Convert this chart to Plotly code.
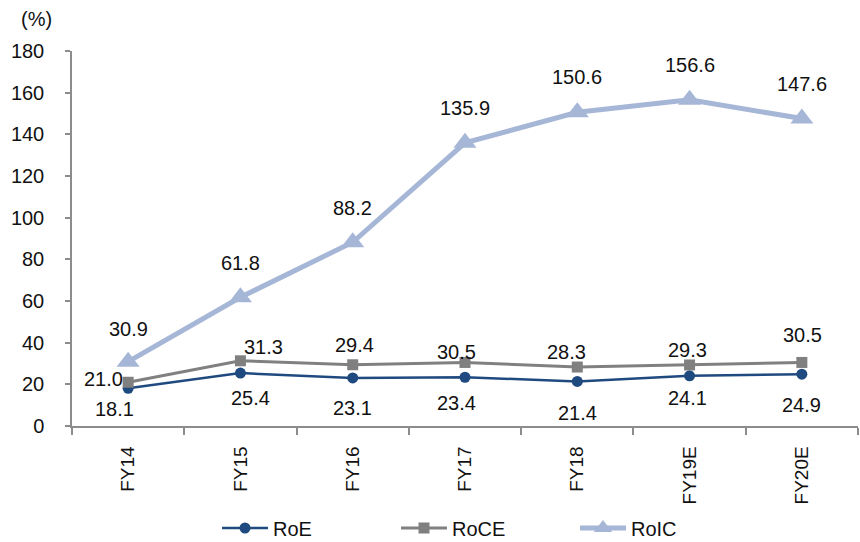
import plotly.graph_objects as go

categories = ["FY14", "FY15", "FY16", "FY17", "FY18", "FY19E", "FY20E"]
roe = [18.1, 25.4, 23.1, 23.4, 21.4, 24.1, 24.9]
roce = [21.0, 31.3, 29.4, 30.5, 28.3, 29.3, 30.5]
roic = [30.9, 61.8, 88.2, 135.9, 150.6, 156.6, 147.6]
y_ticks = [0, 20, 40, 60, 80, 100, 120, 140, 160, 180]

# label offsets (pixels) to mimic the original placement
roe_dx = [-14, 10, 0, -9, 0, -2, 0]
roe_dy = [-21, -25, -30, -26, -32, -22, -31]
roce_dx = [-25, 23, 2, -9, -11, -2, 1]
roce_dy = [3, 14, 20, 10, 15, 15, 27]
roic_dx = [0, 0, 0, 0, 0, 0, 0]
roic_dy = [33, 34, 34, 35, 35, 35, 35]

FONT = "Liberation Sans, Arial, sans-serif"
C_ROE = "#1F4A80"
C_ROCE = "#808080"
C_ROIC = "#A6B6D6"

L, R, T, B = 72, 2, 51, 116
PW, PH = 860 - L - R, 542 - T - B

fig = go.Figure()
fig.add_trace(go.Scatter(x=categories, y=roe, name="RoE", mode="lines+markers",
                         line=dict(color=C_ROE, width=2.5),
                         marker=dict(symbol="circle", size=11, color=C_ROE)))
fig.add_trace(go.Scatter(x=categories, y=roce, name="RoCE", mode="lines+markers",
                         line=dict(color=C_ROCE, width=3),
                         marker=dict(symbol="square", size=11, color=C_ROCE)))
fig.add_trace(go.Scatter(x=categories, y=roic, name="RoIC", mode="lines+markers",
                         line=dict(color=C_ROIC, width=5),
                         marker=dict(symbol="triangle-up", size=20, color=C_ROIC)))

annotations = []
for vals, dxs, dys in ((roe, roe_dx, roe_dy), (roce, roce_dx, roce_dy), (roic, roic_dx, roic_dy)):
    for c, v, dx, dy in zip(categories, vals, dxs, dys):
        annotations.append(dict(x=c, y=v, xref="x", yref="y", text=f"{v:.1f}",
                                showarrow=False, xshift=dx, yshift=dy,
                                font=dict(family=FONT, size=20, color="#111111")))
annotations.append(dict(x=(36 - L) / PW, y=(542 - B - 19) / PH, xref="paper", yref="paper",
                        xanchor="center", yanchor="middle",
                        text="(%)", showarrow=False,
                        font=dict(family=FONT, size=20, color="#111111")))

fig.update_layout(
    width=860, height=542,
    margin=dict(l=L, r=R, t=T, b=B, autoexpand=False),
    paper_bgcolor="white", plot_bgcolor="white",
    font=dict(family=FONT, size=19, color="#111111"),
    annotations=annotations,
    showlegend=True,
    legend=dict(orientation="h", x=(217 - L) / PW, xanchor="left",
                y=(542 - B - 528) / PH, yanchor="middle",
                font=dict(family=FONT, size=20, color="#111111"),
                entrywidth=118, entrywidthmode="pixels", itemwidth=46),
    xaxis=dict(type="category", showline=True, linecolor="#8C8C8C", linewidth=1.5,
               ticks="outside", tickson="boundaries", ticklen=7, tickcolor="#8C8C8C",
               tickwidth=1.5, tickangle=-90, showgrid=False, zeroline=False,
               tickfont=dict(family=FONT, size=19, color="#111111"),
               ticklabelstandoff=11, range=[-0.5, 6.5], automargin=False),
    yaxis=dict(range=[0, 180], tickvals=y_ticks, showline=True, linecolor="#8C8C8C",
               linewidth=1.5, ticks="outside", ticklen=5, tickcolor="#8C8C8C", tickwidth=1.5,
               showgrid=False, zeroline=False,
               tickfont=dict(family=FONT, size=20, color="#111111"),
               ticklabelstandoff=17, automargin=False),
)

fig.write_html("out.html")
